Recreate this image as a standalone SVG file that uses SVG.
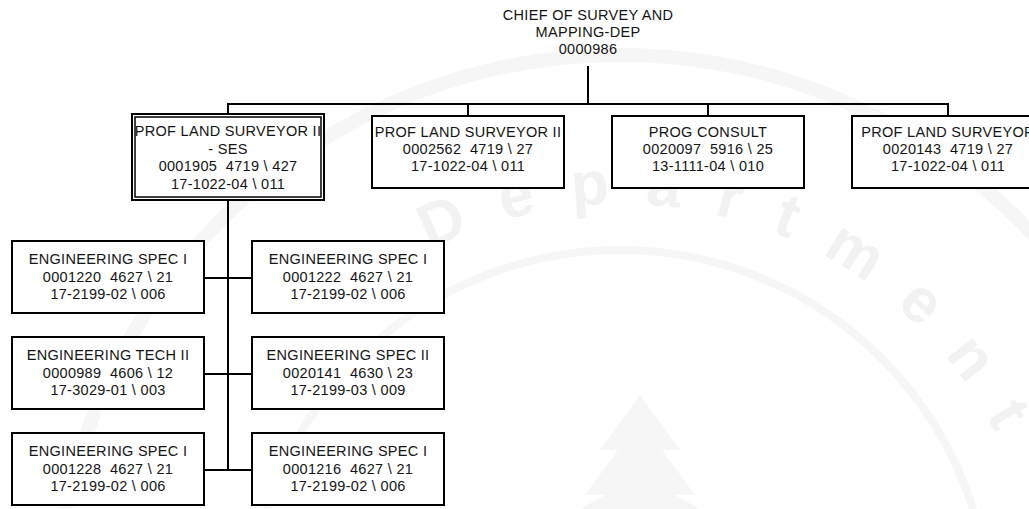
<svg xmlns="http://www.w3.org/2000/svg" width="1029" height="509" viewBox="0 0 1029 509">
  <style>
    .box { fill: #ffffff; stroke: #000000; stroke-width: 2; }
    .inner { fill: none; stroke: #000000; stroke-width: 1.5; }
    .lbl { font-family: "Liberation Sans", Arial, sans-serif; font-size: 14.5px; letter-spacing: 0.3px; fill: #141414; text-anchor: middle; white-space: pre; }
    .wire { fill: none; stroke: #000000; stroke-width: 2; }
    .seal { fill: none; stroke: #f6f6f6; }
    .sealtext { font-family: "Liberation Sans", Arial, sans-serif; font-size: 62px; font-weight: bold; fill: #f2f2f2; }
  </style>
  <defs>
    <path id="sealArc" d="M 430 250 A 420 420 0 0 1 1014.7 476.4"/>
  </defs>

  <rect width="1029" height="509" fill="#ffffff"/>

  <!-- faint department seal in the background -->
  <g id="seal">
    <circle class="seal" cx="620" cy="620" r="565" stroke-width="14"/>
    <circle class="seal" cx="620" cy="620" r="370" stroke-width="8"/>
    <text class="sealtext"><textPath href="#sealArc" textLength="660" lengthAdjust="spacing">Department</textPath></text>
    <path d="M 640 395 L 600 450 L 618 450 L 585 495 L 605 495 L 580 509 L 700 509 L 675 495 L 695 495 L 662 450 L 680 450 Z" fill="#f6f6f6"/>
  </g>

  <!-- connectors -->
  <g id="connectors">
    <path class="wire" d="M 588 66 V 104"/>
    <path class="wire" d="M 228 114 V 104 H 948 V 116"/>
    <path class="wire" d="M 468 104 V 116"/>
    <path class="wire" d="M 708 104 V 116"/>
    <path class="wire" d="M 228 200 V 470"/>
    <path class="wire" d="M 204 278 H 252"/>
    <path class="wire" d="M 204 374 H 252"/>
    <path class="wire" d="M 204 470 H 252"/>
  </g>

  <!-- head of department (no frame) -->
  <g id="chief">
    <text class="lbl" x="588" y="20">CHIEF OF SURVEY AND</text>
    <text class="lbl" x="588" y="37">MAPPING-DEP</text>
    <text class="lbl" x="588" y="54">0000986</text>
  </g>

  <!-- supervisor: double frame -->
  <g id="surveyor-ses">
    <rect class="box" x="132" y="114" width="192" height="86"/>
    <rect class="inner" x="135" y="117" width="186" height="80"/>
    <text class="lbl" x="228" y="136">PROF LAND SURVEYOR II</text>
    <text class="lbl" x="228" y="153.5">- SES</text>
    <text class="lbl" x="228" y="171">0001905  4719 \ 427</text>
    <text class="lbl" x="228" y="188.5">17-1022-04 \ 011</text>
  </g>

  <g id="surveyor-2562">
    <rect class="box" x="372" y="116" width="192" height="72"/>
    <text class="lbl" x="468" y="137">PROF LAND SURVEYOR II</text>
    <text class="lbl" x="468" y="154">0002562  4719 \ 27</text>
    <text class="lbl" x="468" y="171">17-1022-04 \ 011</text>
  </g>

  <g id="prog-consult">
    <rect class="box" x="612" y="116" width="192" height="72"/>
    <text class="lbl" x="708" y="137">PROG CONSULT</text>
    <text class="lbl" x="708" y="154">0020097  5916 \ 25</text>
    <text class="lbl" x="708" y="171">13-1111-04 \ 010</text>
  </g>

  <g id="surveyor-0143">
    <rect class="box" x="852" y="116" width="192" height="72"/>
    <text class="lbl" x="948" y="137">PROF LAND SURVEYOR</text>
    <text class="lbl" x="948" y="154">0020143  4719 \ 27</text>
    <text class="lbl" x="948" y="171">17-1022-04 \ 011</text>
  </g>

  <!-- staff under the supervisor -->
  <g id="eng-1220">
    <rect class="box" x="12" y="241" width="192" height="72"/>
    <text class="lbl" x="108" y="264">ENGINEERING SPEC I</text>
    <text class="lbl" x="108" y="281.5">0001220  4627 \ 21</text>
    <text class="lbl" x="108" y="299">17-2199-02 \ 006</text>
  </g>

  <g id="eng-1222">
    <rect class="box" x="252" y="241" width="192" height="72"/>
    <text class="lbl" x="348" y="264">ENGINEERING SPEC I</text>
    <text class="lbl" x="348" y="281.5">0001222  4627 \ 21</text>
    <text class="lbl" x="348" y="299">17-2199-02 \ 006</text>
  </g>

  <g id="eng-0989">
    <rect class="box" x="12" y="337" width="192" height="72"/>
    <text class="lbl" x="108" y="360">ENGINEERING TECH II</text>
    <text class="lbl" x="108" y="377.5">0000989  4606 \ 12</text>
    <text class="lbl" x="108" y="395">17-3029-01 \ 003</text>
  </g>

  <g id="eng-0141">
    <rect class="box" x="252" y="337" width="192" height="72"/>
    <text class="lbl" x="348" y="360">ENGINEERING SPEC II</text>
    <text class="lbl" x="348" y="377.5">0020141  4630 \ 23</text>
    <text class="lbl" x="348" y="395">17-2199-03 \ 009</text>
  </g>

  <g id="eng-1228">
    <rect class="box" x="12" y="433" width="192" height="72"/>
    <text class="lbl" x="108" y="456">ENGINEERING SPEC I</text>
    <text class="lbl" x="108" y="473.5">0001228  4627 \ 21</text>
    <text class="lbl" x="108" y="491">17-2199-02 \ 006</text>
  </g>

  <g id="eng-1216">
    <rect class="box" x="252" y="433" width="192" height="72"/>
    <text class="lbl" x="348" y="456">ENGINEERING SPEC I</text>
    <text class="lbl" x="348" y="473.5">0001216  4627 \ 21</text>
    <text class="lbl" x="348" y="491">17-2199-02 \ 006</text>
  </g>
</svg>
